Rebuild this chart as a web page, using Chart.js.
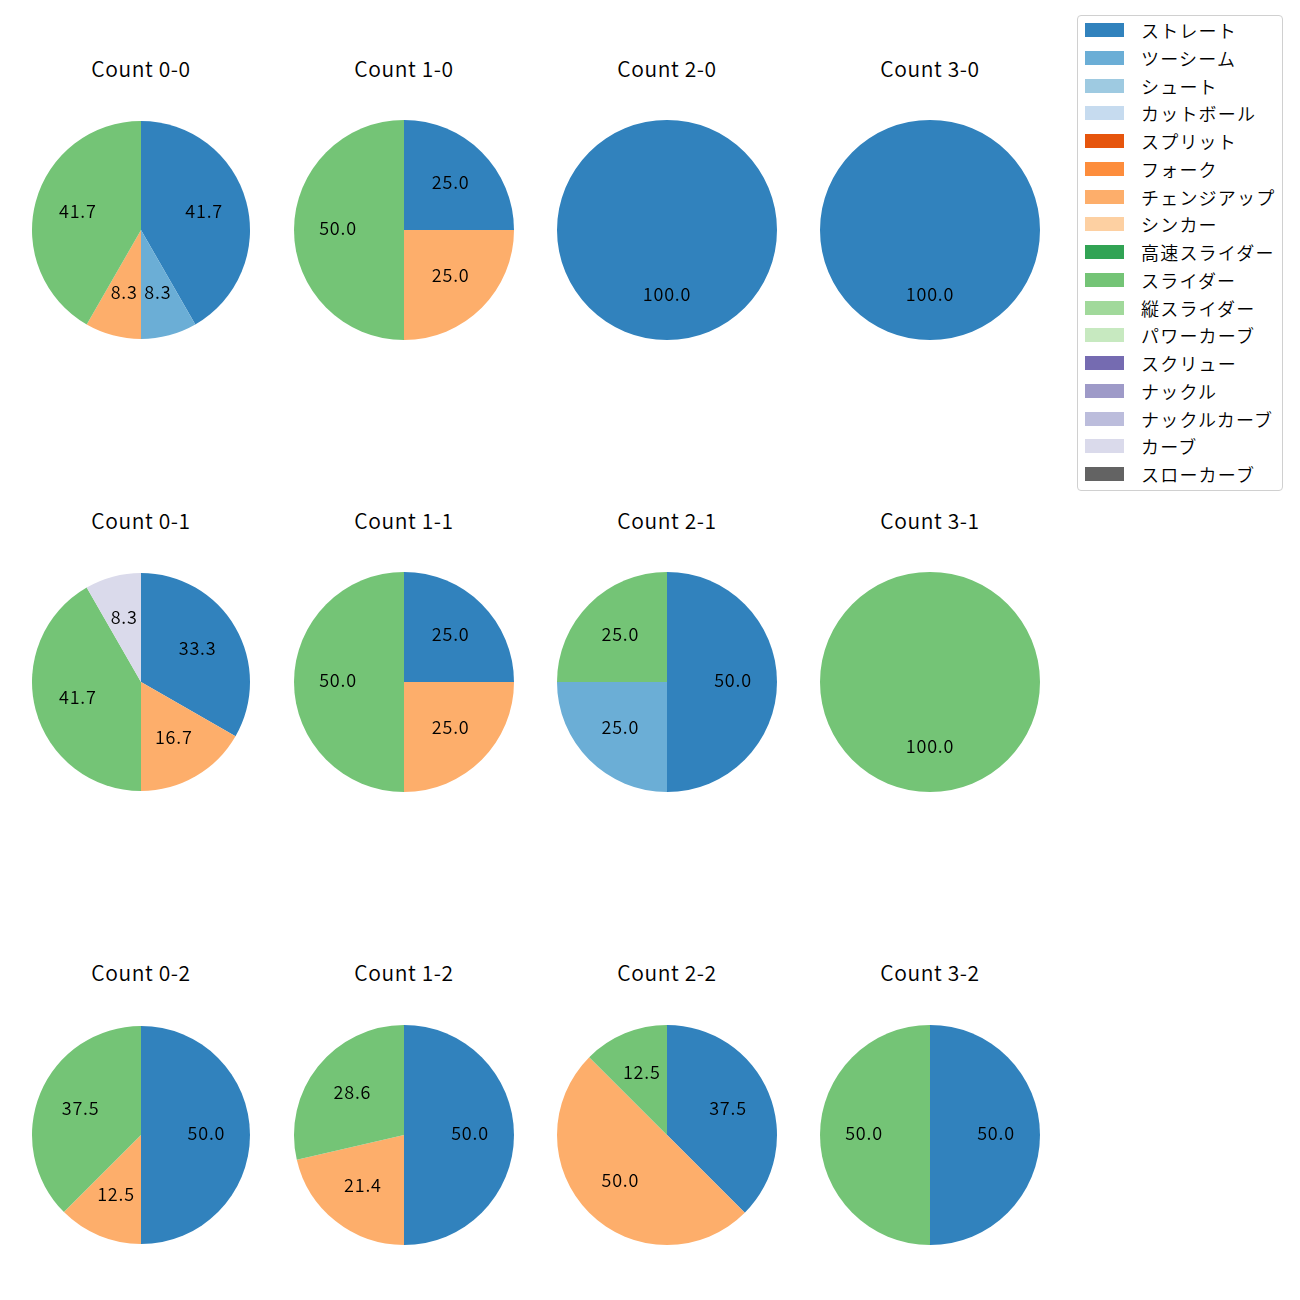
<!DOCTYPE html>
<html>
<head>
<meta charset="utf-8">
<script src="https://cdn.jsdelivr.net/npm/chart.js@4.4.0/dist/chart.umd.min.js"></script>
<style>
  html, body { margin: 0; padding: 0; background: #fff; }
  body { width: 1300px; height: 1300px; position: relative; overflow: hidden;
         font-family: "Noto Sans CJK JP", "Noto Sans", sans-serif; font-weight: 350; }
  .pie { position: absolute; }
  .title { position: absolute; font-size: 21px; color: #000; white-space: nowrap; letter-spacing: 0.6px;
           transform: translate(-50%, -50%); line-height: 1; }
  #legend { position: absolute; left: 1077px; top: 15px; width: 204px; height: 474px;
            border: 1px solid #d0d0d0; border-radius: 4px; background: #fff; box-sizing: content-box; }
  .item { position: absolute; left: 0; height: 20px; }
  .swatch { position: absolute; left: 7px; top: 3px; width: 39px; height: 14px; }
  .label { position: absolute; left: 63px; top: -2px; font-size: 18px; letter-spacing: 1.2px;
           white-space: nowrap; color: #000; line-height: 24px; }
</style>
</head>
<body>
<div id="legend"></div>
<script>
  // --- Data ---
  const pitchTypes = [
    "ストレート", "ツーシーム", "シュート", "カットボール", "スプリット", "フォーク",
    "チェンジアップ", "シンカー", "高速スライダー", "スライダー", "縦スライダー",
    "パワーカーブ", "スクリュー", "ナックル", "ナックルカーブ", "カーブ", "スローカーブ",
  ];
  const pitchColors = [
    "#3182bd", "#6baed6", "#9ecae1", "#c6dbef", "#e6550d", "#fd8d3c",
    "#fdae6b", "#fdd0a2", "#31a354", "#74c476", "#a1d99b",
    "#c7e9c0", "#756bb1", "#9e9ac8", "#bcbddc", "#dadaeb", "#636363",
  ];
  const countLabels = ["0-0", "1-0", "2-0", "3-0", "0-1", "1-1", "2-1", "3-1", "0-2", "1-2", "2-2", "3-2"];

  // shares in pitchTypes order (%)
  const share00 = [41.7, 8.3, 0, 0, 0, 0, 8.3, 0, 0, 41.7, 0, 0, 0, 0, 0, 0, 0];
  const share10 = [25.0, 0, 0, 0, 0, 0, 25.0, 0, 0, 50.0, 0, 0, 0, 0, 0, 0, 0];
  const share20 = [100.0, 0, 0, 0, 0, 0, 0, 0, 0, 0, 0, 0, 0, 0, 0, 0, 0];
  const share30 = [100.0, 0, 0, 0, 0, 0, 0, 0, 0, 0, 0, 0, 0, 0, 0, 0, 0];
  const share01 = [33.3, 0, 0, 0, 0, 0, 16.7, 0, 0, 41.7, 0, 0, 0, 0, 0, 8.3, 0];
  const share11 = [25.0, 0, 0, 0, 0, 0, 25.0, 0, 0, 50.0, 0, 0, 0, 0, 0, 0, 0];
  const share21 = [50.0, 25.0, 0, 0, 0, 0, 0, 0, 0, 25.0, 0, 0, 0, 0, 0, 0, 0];
  const share31 = [0, 0, 0, 0, 0, 0, 0, 0, 0, 100.0, 0, 0, 0, 0, 0, 0, 0];
  const share02 = [50.0, 0, 0, 0, 0, 0, 12.5, 0, 0, 37.5, 0, 0, 0, 0, 0, 0, 0];
  const share12 = [50.0, 0, 0, 0, 0, 0, 21.4, 0, 0, 28.6, 0, 0, 0, 0, 0, 0, 0];
  const share22 = [37.5, 0, 0, 0, 0, 0, 50.0, 0, 0, 12.5, 0, 0, 0, 0, 0, 0, 0];
  const share32 = [50.0, 0, 0, 0, 0, 0, 0, 0, 0, 50.0, 0, 0, 0, 0, 0, 0, 0];

  const allShares = [
    share00, share10, share20, share30,
    share01, share11, share21, share31,
    share02, share12, share22, share32,
  ];

  // --- Layout ---
  const colX = [141, 404, 667, 930];
  const rowY = [229.5, 682, 1135];
  const titleY = [68, 520, 972];
  const colR = [109, 110, 110, 110];
  const BOX = 240;

  // percentage labels at 0.6 of the radius
  const pctLabels = {
    id: "pctLabels",
    afterDatasetsDraw(chart) {
      const ctx = chart.ctx;
      const meta = chart.getDatasetMeta(0);
      const values = chart.data.datasets[0].data;
      ctx.save();
      ctx.font = '350 18px "Noto Sans CJK JP", "Noto Sans", sans-serif';
      if ("letterSpacing" in ctx) ctx.letterSpacing = "0.8px";
      ctx.fillStyle = "#000";
      ctx.textAlign = "center";
      ctx.textBaseline = "middle";
      meta.data.forEach((arc, i) => {
        if (!values[i]) return;
        const mid = (arc.startAngle + arc.endAngle) / 2;
        const r = arc.outerRadius * 0.6;
        ctx.fillText(values[i].toFixed(1), arc.x + Math.cos(mid) * r, arc.y + Math.sin(mid) * r - 1.5);
      });
      ctx.restore();
    },
  };

  allShares.forEach((shares, k) => {
    const col = k % 4;
    const row = Math.floor(k / 4);
    const cx = colX[col];
    const cy = rowY[row];

    const canvas = document.createElement("canvas");
    canvas.className = "pie";
    canvas.width = BOX;
    canvas.height = BOX;
    canvas.style.left = cx - BOX / 2 + "px";
    canvas.style.top = cy - BOX / 2 + "px";
    canvas.style.width = BOX + "px";
    canvas.style.height = BOX + "px";
    document.body.appendChild(canvas);

    const title = document.createElement("div");
    title.className = "title";
    title.textContent = "Count " + countLabels[k];
    title.style.left = cx + "px";
    title.style.top = titleY[row] + "px";
    document.body.appendChild(title);

    new Chart(canvas.getContext("2d"), {
      type: "pie",
      data: {
        labels: pitchTypes,
        datasets: [{
          data: shares,
          backgroundColor: pitchColors,
          borderWidth: 0,
        }],
      },
      options: {
        responsive: false,
        animation: false,
        devicePixelRatio: 1,
        layout: { padding: BOX / 2 - colR[col] },
        plugins: { legend: { display: false }, tooltip: { enabled: false } },
      },
      plugins: [pctLabels],
    });
  });

  // --- Legend ---
  const legend = document.getElementById("legend");
  pitchTypes.forEach((name, i) => {
    const item = document.createElement("div");
    item.className = "item";
    item.style.top = 4 + i * 27.75 + "px";
    item.innerHTML = `<div class="swatch" style="background:${pitchColors[i]}"></div><div class="label">${name}</div>`;
    legend.appendChild(item);
  });
</script>
</body>
</html>
